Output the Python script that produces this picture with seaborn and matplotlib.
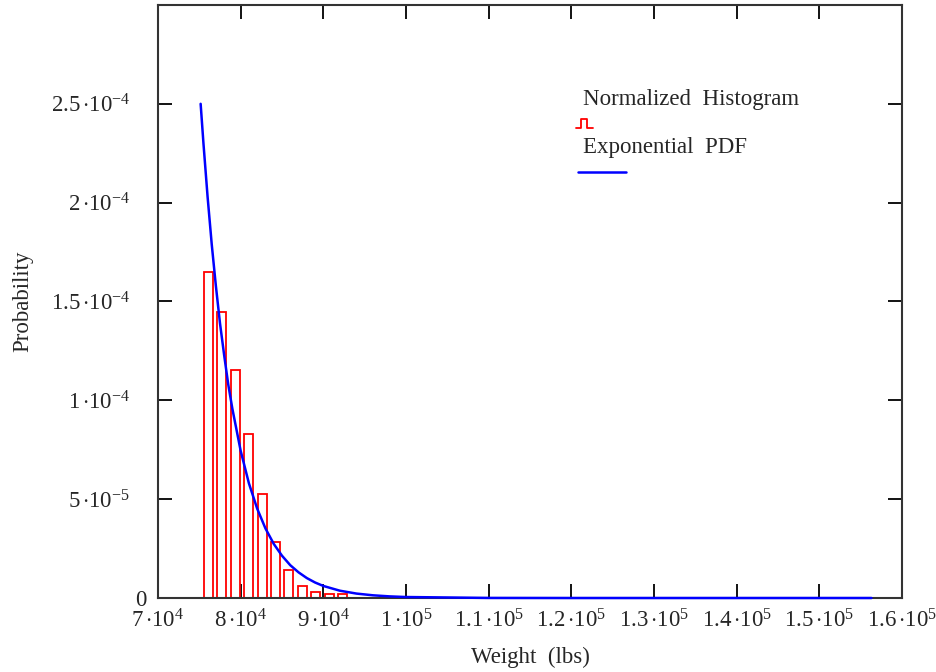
import matplotlib
matplotlib.use("Agg")
import matplotlib.pyplot as plt
import matplotlib.transforms as mtransforms
import seaborn as sns
import pandas as pd

# ---- data ----
bin_centers = [76110, 77730, 79350, 80970, 82590, 84210, 85830, 87450, 89070, 90690, 92310]
bin_probs = [1.65e-4, 1.447e-4, 1.154e-4, 0.83e-4, 0.525e-4, 0.282e-4,
             0.142e-4, 0.061e-4, 0.030e-4, 0.020e-4, 0.020e-4]
bin_width = 1620
bin_start = 75300

pdf_weight = [75160, 75500, 76000, 76500, 77000, 77500, 78000, 78500, 79000,
              80000, 81000, 82000, 83000, 84000, 85000, 86000, 87000, 88000,
              89000, 90000, 92000, 94000, 96000, 98000, 100000, 110000,
              120000, 130000, 140000, 150000, 156300]
pdf_prob = [2.50e-4, 2.30e-4, 2.03e-4, 1.79e-4, 1.58e-4, 1.39e-4, 1.23e-4,
            1.08e-4, 0.957e-4, 0.745e-4, 0.58e-4, 0.452e-4, 0.352e-4,
            0.274e-4, 0.214e-4, 0.166e-4, 0.130e-4, 0.101e-4, 0.0785e-4,
            0.061e-4, 0.037e-4, 0.0225e-4, 0.0137e-4, 0.0083e-4, 0.005e-4,
            0.0004e-4, 0.0, 0.0, 0.0, 0.0, 0.0]

x_ticks = [70000, 80000, 90000, 100000, 110000, 120000, 130000, 140000, 150000, 160000]
x_tick_labels = [r"$7\,{\cdot}10^{4}$", r"$8\,{\cdot}10^{4}$", r"$9\,{\cdot}10^{4}$",
                 r"$1\,{\cdot}10^{5}$", r"$1.1\,{\cdot}10^{5}$", r"$1.2\,{\cdot}10^{5}$",
                 r"$1.3\,{\cdot}10^{5}$", r"$1.4\,{\cdot}10^{5}$", r"$1.5\,{\cdot}10^{5}$",
                 r"$1.6\,{\cdot}10^{5}$"]
y_ticks = [0, 5e-5, 1e-4, 1.5e-4, 2e-4, 2.5e-4]
y_tick_labels = ["0", r"$5\,{\cdot}10^{-5}$", r"$1\,{\cdot}10^{-4}$", r"$1.5\,{\cdot}10^{-4}$",
                 r"$2\,{\cdot}10^{-4}$", r"$2.5\,{\cdot}10^{-4}$"]

legend_labels = ["Normalized  Histogram", "Exponential  PDF"]

# ---- style ----
sns.set_style("white")
plt.rcParams["font.family"] = ["Liberation Serif", "DejaVu Serif"]
plt.rcParams["mathtext.fontset"] = "custom"
plt.rcParams["mathtext.rm"] = "Liberation Serif"
plt.rcParams["mathtext.it"] = "Liberation Serif:italic"
plt.rcParams["mathtext.bf"] = "Liberation Serif:bold"
FS = 16.5

fig = plt.figure(figsize=(9.37, 6.72), dpi=100)
ax = fig.add_axes([0.1686, 0.1101, 0.7941, 0.8825])

hist_df = pd.DataFrame({"weight": bin_centers, "prob": bin_probs})
pdf_df = pd.DataFrame({"weight": pdf_weight, "prob": pdf_prob})

sns.histplot(data=hist_df, x="weight", weights="prob", binwidth=bin_width,
             binrange=(bin_start, bin_start + bin_width * len(bin_centers)),
             shrink=0.67, fill=False, color="#ff0000", linewidth=1.3, ax=ax)
sns.lineplot(data=pdf_df, x="weight", y="prob", color="#0000ff", linewidth=1.8,
             ax=ax, zorder=3, clip_on=False)

ax.set_xlim(70000, 160000)
ax.set_ylim(0, 3e-4)
ax.set_xticks(x_ticks)
ax.set_xticklabels(x_tick_labels, fontsize=FS)
ax.set_yticks(y_ticks)
ax.set_yticklabels(y_tick_labels, fontsize=FS)
ax.tick_params(axis="both", direction="in", length=10, width=1.3, color="black",
               top=True, right=True, bottom=True, left=True)
ax.tick_params(axis="x", pad=8)
ax.tick_params(axis="y", pad=20)

for s in ax.spines.values():
    s.set_color("#333333")
    s.set_linewidth(1.5)

ax.set_xlabel("Weight  (lbs)", fontsize=FS)
ax.set_ylabel("Probability", fontsize=FS)
ax.xaxis.set_label_coords(0.5, -0.083)
ax.yaxis.set_label_coords(-0.168, 0.5)

# shift the "0" y label closer to the axis like the reference
zero_lab = ax.get_yticklabels()[0]
zero_lab.set_transform(zero_lab.get_transform() +
                       mtransforms.ScaledTranslation(12 / 72, 0, fig.dpi_scale_trans))

# legend drawn Mathcad-style (text above its symbol)
ax.text(0.571, 0.840, legend_labels[0], transform=ax.transAxes, fontsize=FS,
        ha="left", va="center")
ax.plot([0.5618, 0.5685, 0.5685, 0.5766, 0.5766, 0.5847],
        [0.7926, 0.7926, 0.8078, 0.8078, 0.7926, 0.7926],
        transform=ax.transAxes, color="#ff0000", linewidth=1.3)
ax.text(0.571, 0.7605, legend_labels[1], transform=ax.transAxes, fontsize=FS,
        ha="left", va="center")
ax.plot([0.5645, 0.629], [0.7184, 0.7184], transform=ax.transAxes,
        color="#0000ff", linewidth=1.8)

fig.savefig("out.png", dpi=100, facecolor="white")
